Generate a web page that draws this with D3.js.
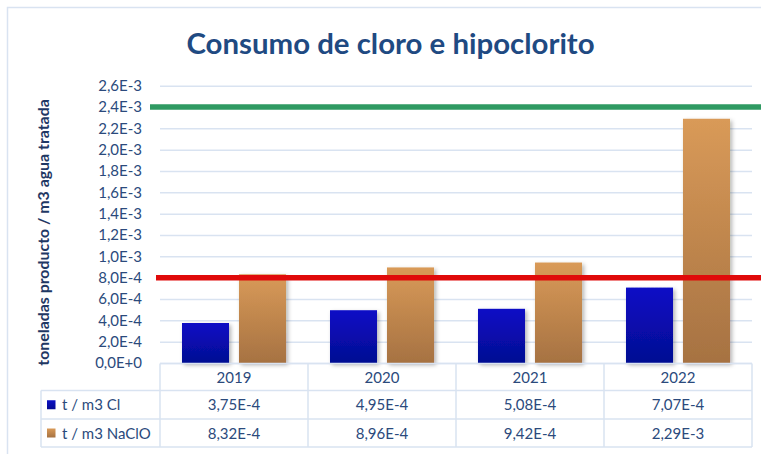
<!DOCTYPE html>
<html>
<head>
<meta charset="utf-8">
<script src="https://cdn.jsdelivr.net/npm/d3@7"></script>
<style>
  html, body { margin: 0; padding: 0; background: #fff; }
  svg { display: block; font-family: Lato, "Open Sans", sans-serif; }
</style>
</head>
<body>
<svg id="chart" width="761" height="454"></svg>
<script>
// Chart data
const years = ["2019", "2020", "2021", "2022"];
const seriesNames = ["t / m3 Cl", "t / m3 NaClO"];
const chlorine = [3.75e-4, 4.95e-4, 5.08e-4, 7.07e-4];
const hypochlorite = [8.32e-4, 8.96e-4, 9.42e-4, 2.29e-3];
const yTicks = [0, 2e-4, 4e-4, 6e-4, 8e-4, 1e-3, 1.2e-3, 1.4e-3, 1.6e-3, 1.8e-3, 2e-3, 2.2e-3, 2.4e-3, 2.6e-3];
const referenceLines = [2.4e-3, 8e-4];

const seriesValues = [chlorine, hypochlorite];

const svg = d3.select("#chart");
const W = 761, H = 454;
const plot = { left: 160, right: 752, top: 85.7, bottom: 363 };
const gridColor = "#D9E3F1";
const textColor = "#2B4A7C";

// Scientific notation with a decimal comma: 2,6E-3
const sci = digits => v => v.toExponential(digits).replace(".", ",").replace("e", "E");

const y = d3.scaleLinear().domain([0, 2.6e-3]).range([plot.bottom, plot.top]);
const x = d3.scaleBand().domain(years).range([plot.left, plot.right]);
const xs = d3.scaleBand().domain(seriesNames).range([0, x.bandwidth()])
  .paddingInner(0.175).paddingOuter(0.386);

const defs = svg.append("defs");
const gradStops = [
  ["gradCl", "#0B10C6", "#040A92"],
  ["gradNaClO", "#D99A58", "#A67242"]
];
gradStops.forEach(([id, top, bottom]) => {
  const g = defs.append("linearGradient").attr("id", id)
    .attr("x1", 0).attr("y1", 0).attr("x2", 0).attr("y2", 1);
  g.append("stop").attr("offset", "0%").attr("stop-color", top);
  g.append("stop").attr("offset", "100%").attr("stop-color", bottom);
});
const shadow = defs.append("filter").attr("id", "barShadow")
  .attr("x", "-20%").attr("y", "-10%").attr("width", "150%").attr("height", "130%");
shadow.append("feDropShadow").attr("dx", 2).attr("dy", 2).attr("stdDeviation", 2)
  .attr("flood-color", "#000").attr("flood-opacity", 0.3);
const fills = ["url(#gradCl)", "url(#gradNaClO)"];

// Outer frame
svg.append("path")
  .attr("d", `M7.5,${H + 2} V7.5 H${W + 2}`)
  .attr("fill", "none").attr("stroke", gridColor).attr("stroke-width", 1.5);

// Title
svg.append("text")
  .attr("x", 390.5).attr("y", 53.5)
  .attr("text-anchor", "middle")
  .attr("font-size", 29.4).attr("font-weight", "bold")
  .attr("fill", "#1F4A82")
  .text("Consumo de cloro e hipoclorito");

// Y axis with gridlines
const yAxis = d3.axisLeft(y).tickValues(yTicks).tickFormat(sci(1))
  .tickSize(-(plot.right - plot.left)).tickPadding(18);
const gy = svg.append("g").attr("transform", `translate(${plot.left},0)`).call(yAxis);
gy.select(".domain").remove();
gy.selectAll(".tick line").attr("stroke", gridColor).attr("stroke-width", 1.5);
gy.selectAll(".tick text").attr("fill", textColor).attr("font-size", 15)
  .attr("font-family", "Lato, sans-serif");

// Y axis title
svg.append("text")
  .attr("transform", `translate(49,${(93 + 372) / 2}) rotate(-90)`)
  .attr("text-anchor", "middle")
  .attr("font-size", 15.9).attr("font-weight", "bold")
  .attr("fill", "#1F3864")
  .text("toneladas producto / m3 agua tratada");

// Bars
seriesValues.forEach((vals, si) => {
  svg.append("g").selectAll("rect")
    .data(vals)
    .join("rect")
    .attr("x", (d, i) => x(years[i]) + xs(seriesNames[si]))
    .attr("y", d => y(d))
    .attr("width", xs.bandwidth())
    .attr("height", d => y(0) - y(d))
    .attr("fill", fills[si])
    .attr("filter", "url(#barShadow)");
});

// Reference lines
const refColors = ["#2F9A62", "#E00A0A"];
const refStart = [150, 156];
referenceLines.forEach((v, i) => {
  svg.append("line")
    .attr("x1", refStart[i]).attr("x2", W + 5)
    .attr("y1", y(v)).attr("y2", y(v))
    .attr("stroke", refColors[i]).attr("stroke-width", 5.5);
});

// Data table under the plot
const tableLeft = 41;
const rowsY = [363.5, 390.5, 419, 447];
const tbl = svg.append("g").attr("stroke", gridColor).attr("stroke-width", 1.5).attr("fill", "none");
// horizontal rules
tbl.append("line").attr("x1", plot.left).attr("x2", plot.right).attr("y1", rowsY[0]).attr("y2", rowsY[0]);
[1, 2, 3].forEach(r => tbl.append("line")
  .attr("x1", tableLeft).attr("x2", plot.right).attr("y1", rowsY[r]).attr("y2", rowsY[r]));
// vertical rules
tbl.append("line").attr("x1", tableLeft).attr("x2", tableLeft).attr("y1", rowsY[1]).attr("y2", rowsY[3]);
years.forEach(yr => tbl.append("line")
  .attr("x1", x(yr)).attr("x2", x(yr)).attr("y1", rowsY[0]).attr("y2", rowsY[3]));
tbl.append("line").attr("x1", plot.right).attr("x2", plot.right).attr("y1", rowsY[0]).attr("y2", rowsY[3]);

// Category labels
svg.append("g").selectAll("text")
  .data(years).join("text")
  .attr("x", d => x(d) + x.bandwidth() / 2)
  .attr("y", (rowsY[0] + rowsY[1]) / 2 + 5.5)
  .attr("text-anchor", "middle").attr("font-size", 15).attr("fill", textColor)
  .text(d => d);

// Series rows: legend key + values
seriesValues.forEach((vals, si) => {
  const cy = (rowsY[si + 1] + rowsY[si + 2]) / 2;
  svg.append("rect")
    .attr("x", 47).attr("y", cy - 4.5).attr("width", 8.5).attr("height", 9)
    .attr("fill", fills[si]);
  svg.append("text")
    .attr("x", 62).attr("y", cy + 5.5)
    .attr("font-size", 15).attr("fill", textColor)
    .text(seriesNames[si]);
  svg.append("g").selectAll("text")
    .data(vals).join("text")
    .attr("x", (d, i) => x(years[i]) + x.bandwidth() / 2)
    .attr("y", cy + 5.5)
    .attr("text-anchor", "middle").attr("font-size", 15).attr("fill", textColor)
    .text(sci(2));
});
</script>
</body>
</html>
